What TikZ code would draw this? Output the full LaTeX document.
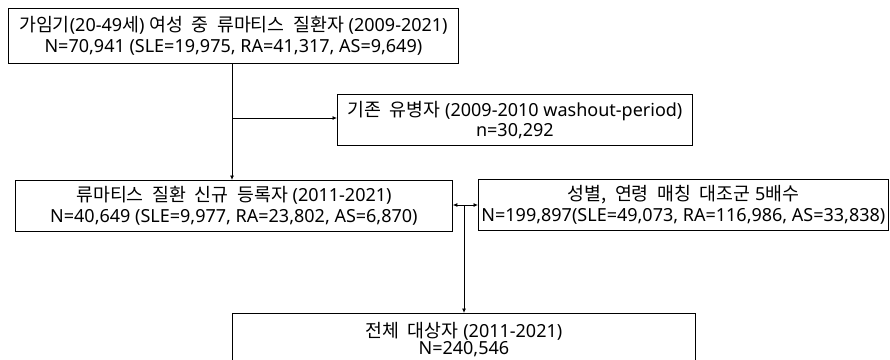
\documentclass[tikz,border=0pt]{standalone}
\usepackage{fontspec}
\setmainfont{Noto Sans}
\newfontfamily\kr{Noto Sans CJK KR}[Scale=1.02,WordSpace=2.1]
\usetikzlibrary{arrows.meta}
\begin{document}
\begin{tikzpicture}[x=1pt,y=-1pt,
  box/.style={draw=black,line width=0.8pt,anchor=north west,inner sep=0pt,align=center,font=\fontsize{18}{20.5}\selectfont},
  conn/.style={draw=black,line width=0.8pt},
  tip/.tip={Latex[length=4.5pt,width=4pt]},
  arr/.style={conn,-tip}]
\useasboundingbox[fill=white] (0,0) rectangle (890,359);
\node[box,minimum width=450pt,minimum height=55pt] (b1) at (8,8) {{\kr 가임기}(20-49{\kr 세}) {\kr 여성 중 류마티스 질환자} (2009-2021)\\N=70,941 (SLE=19,975, RA=41,317, AS=9,649)};
\node[box,minimum width=355pt,minimum height=51pt] (b2) at (337,94) {{\kr 기존 유병자} (2009-2010 washout-period)\\n=30,292};
\node[box,minimum width=437pt,minimum height=51pt] (b3) at (15,180) {{\kr 류마티스 질환 신규 등록자} (2011-2021)\\N=40,649 (SLE=9,977, RA=23,802, AS=6,870)};
\node[box,minimum width=410pt,minimum height=51pt] (b4) at (478,179) {{\kr 성별, 연령 매칭 대조군} 5{\kr 배수}\\N=199,897(SLE=49,073, RA=116,986, AS=33,838)};
\node[box,minimum width=463pt,minimum height=60pt] (b5) at (232,313) {\raisebox{19pt}{\begin{tabular}{@{}c@{}}{\kr 전체 대상자} (2011-2021)\\[-3pt]N=240,546\end{tabular}}};
\coordinate (j1) at (232,118);
\coordinate (j2) at (464,205);
\draw[conn] (b1.south -| j1) -- (j1);
\draw[arr] (j1) -- (b3.north -| j1);
\draw[arr] (j1) -- (b2.west |- j1);
\draw[conn,tip-tip] (b3.east |- j2) -- (b4.west |- j2);
\draw[arr] (j2) -- (b5.north -| j2);
\end{tikzpicture}
\end{document}
